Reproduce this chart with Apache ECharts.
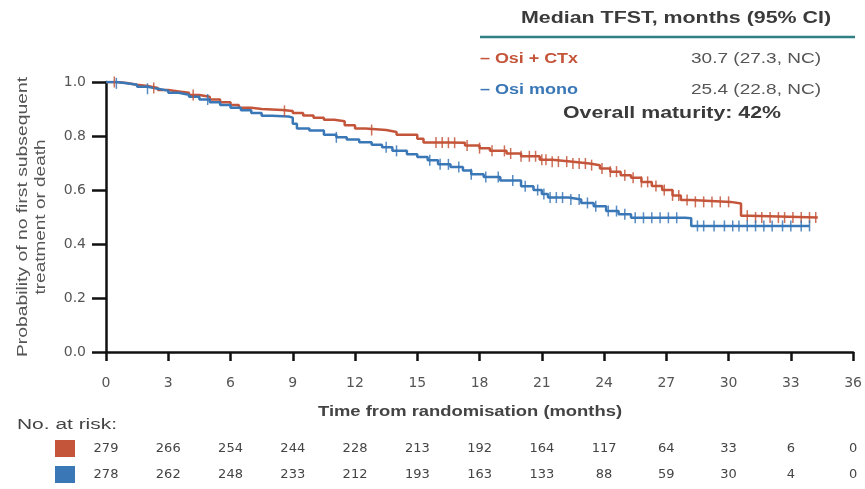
<!DOCTYPE html>
<html>
<head>
<meta charset="utf-8">
<script src="https://cdn.jsdelivr.net/npm/echarts@6/dist/echarts.min.js"></script>
<style>
  html, body { margin: 0; padding: 0; background: #fff; }
  #chart { width: 865px; height: 489px; }
</style>
</head>
<body>
<div id="chart"></div>
<script>
// Kaplan–Meier step points [months, probability]
const osiCtxCurve = [
  [0, 1.0], [0.5, 0.996], [1.0, 0.99], [1.5, 0.985], [2.0, 0.978], [2.5, 0.97],
  [3.0, 0.965], [3.5, 0.96], [4.0, 0.952], [4.5, 0.945], [5.0, 0.935], [5.5, 0.925],
  [6.0, 0.915], [6.4, 0.905], [7.0, 0.9], [7.5, 0.896], [8.5, 0.893], [9.0, 0.885],
  [9.5, 0.876], [10.0, 0.868], [10.5, 0.86], [11.0, 0.855], [11.5, 0.84], [12.0, 0.828],
  [12.5, 0.822], [13.5, 0.815], [14.0, 0.805], [15.0, 0.79], [15.3, 0.776], [16.5, 0.775],
  [17.3, 0.765], [18.0, 0.755], [18.5, 0.745], [19.3, 0.735], [20.0, 0.725], [20.9, 0.712],
  [21.5, 0.705], [22.5, 0.698], [23.3, 0.692], [23.8, 0.68], [24.3, 0.668], [24.8, 0.655],
  [25.3, 0.645], [25.8, 0.63], [26.3, 0.615], [26.8, 0.6], [27.3, 0.58], [27.7, 0.563],
  [28.2, 0.556], [30.1, 0.55], [30.6, 0.505], [31.0, 0.498], [34.3, 0.498]
];
const osiMonoCurve = [
  [0, 1.0], [0.5, 0.995], [1.0, 0.99], [1.5, 0.982], [2.0, 0.975], [2.5, 0.968],
  [3.0, 0.96], [3.5, 0.953], [4.0, 0.945], [4.5, 0.935], [5.0, 0.925], [5.5, 0.915],
  [6.0, 0.905], [6.5, 0.895], [7.0, 0.885], [7.5, 0.875], [8.0, 0.872], [8.8, 0.868],
  [9.0, 0.845], [9.2, 0.828], [9.8, 0.82], [10.5, 0.805], [11.1, 0.795], [11.6, 0.787],
  [12.2, 0.777], [12.8, 0.768], [13.3, 0.758], [13.8, 0.745], [14.5, 0.732], [15.0, 0.722],
  [15.5, 0.71], [16.0, 0.695], [16.6, 0.685], [17.2, 0.672], [17.6, 0.658], [18.2, 0.648],
  [19.0, 0.635], [20.0, 0.614], [20.6, 0.6], [21.0, 0.585], [21.3, 0.572], [22.3, 0.565],
  [22.9, 0.552], [23.5, 0.54], [24.1, 0.522], [24.7, 0.51], [25.3, 0.497], [27.9, 0.495],
  [28.2, 0.467], [33.9, 0.467]
];

// Censoring times (months)
const osiCtxCensored = [0.4, 2.3, 4.2, 8.6, 12.8, 15.9, 16.2, 16.5, 16.8, 17.4, 18.0, 18.6,
  19.2, 19.5, 20.0, 20.4, 20.7, 21.0, 21.2, 21.5, 21.8, 22.2, 22.5, 22.8, 23.1, 23.4, 23.9,
  24.3, 24.6, 25.0, 25.4, 25.8, 26.1, 26.5, 26.9, 27.3, 27.6, 28.0, 28.4, 28.8, 29.2, 29.6,
  30.0, 30.9, 31.3, 31.6, 32.0, 32.4, 32.7, 33.1, 33.5, 33.9, 34.2];
const osiMonoCensored = [0.5, 2.0, 4.9, 11.1, 13.5, 14.0, 15.6, 16.1, 16.5, 17.0, 17.6, 18.3,
  18.9, 19.6, 20.2, 20.8, 21.1, 21.4, 21.7, 22.0, 22.4, 22.8, 23.2, 23.6, 24.2, 24.6, 25.0,
  25.5, 25.9, 26.3, 26.7, 27.1, 27.5, 28.5, 28.8, 29.3, 29.8, 30.2, 30.5, 30.9, 31.3, 31.7,
  32.1, 32.6, 33.0, 33.5, 33.9];

// Axis ticks and numbers at risk
const monthTicks = [0, 3, 6, 9, 12, 15, 18, 21, 24, 27, 30, 33, 36];
const atRiskOsiCtx = [279, 266, 254, 244, 228, 213, 192, 164, 117, 64, 33, 6, 0];
const atRiskOsiMono = [278, 262, 248, 233, 212, 193, 163, 133, 88, 59, 30, 4, 0];

// Median table
const armNames = ['Osi + CTx', 'Osi mono'];
const medianText = ['30.7 (27.3, NC)', '25.4 (22.8, NC)'];
const maturityText = 'Overall maturity: 42%';

const RED = '#c4553a';
const BLUE = '#3a77b6';
const FONT = '"Liberation Sans", Arial, sans-serif';
const WIDE = '"DejaVu Sans", "Liberation Sans", sans-serif';

// value of a step curve at time t
function stepValue(curve, t) {
  let v = curve[0][1];
  for (const p of curve) { if (p[0] <= t) v = p[1]; else break; }
  return v;
}
const censorPoints = (curve, times) => times.map(t => [t, stepValue(curve, t)]);

// text measured on a scratch canvas so it can be widened to a given length
const measureCtx = document.createElement('canvas').getContext('2d');
function fittedText(text, font, fill, x, y, width, align, rotate) {
  measureCtx.font = font;
  const natural = measureCtx.measureText(text).width;
  return {
    type: 'text', x: x, y: y, rotation: rotate || 0, scaleX: width / natural,
    style: { text: text, font: font, fill: fill, align: align || 'left', verticalAlign: 'middle' },
    z: 10
  };
}

function riskAxis(values, offset) {
  return {
    type: 'value', min: 0, max: 36, interval: 3, position: 'bottom', offset: offset,
    axisLine: { show: false }, axisTick: { show: false }, splitLine: { show: false },
    axisLabel: {
      margin: 0, color: '#444', fontFamily: WIDE, fontSize: 13, verticalAlign: 'middle',
      formatter: v => { const i = monthTicks.indexOf(v); return i >= 0 ? String(values[i]) : ''; }
    }
  };
}

const chart = echarts.init(document.getElementById('chart'), null, { renderer: 'canvas' });
chart.setOption({
  animation: false,
  backgroundColor: '#ffffff',
  grid: { left: 106, right: 10, top: 82, bottom: 137 },
  xAxis: [
    {
      type: 'value', min: 0, max: 36, interval: 3,
      axisLine: { lineStyle: { color: '#111', width: 2.5 } },
      axisTick: { length: 9, lineStyle: { color: '#111', width: 2.5 } },
      axisLabel: { margin: 31, color: '#555', fontFamily: WIDE, fontSize: 14, verticalAlign: 'middle' },
      splitLine: { show: false }
    },
    riskAxis(atRiskOsiCtx, 97),
    riskAxis(atRiskOsiMono, 123)
  ],
  yAxis: {
    type: 'value', min: 0, max: 1, interval: 0.2,
    axisLine: { lineStyle: { color: '#111', width: 2.5 } },
    axisTick: { length: 14, lineStyle: { color: '#111', width: 2.5 } },
    axisLabel: { margin: 20, color: '#555', fontFamily: WIDE, fontSize: 14, formatter: v => v.toFixed(1) },
    splitLine: { show: false }
  },
  series: [
    {
      name: armNames[0], type: 'line', step: 'end', data: osiCtxCurve, showSymbol: false,
      lineStyle: { color: RED, width: 2.5 }, z: 3
    },
    {
      name: armNames[1], type: 'line', step: 'end', data: osiMonoCurve, showSymbol: false,
      lineStyle: { color: BLUE, width: 2.5 }, z: 3
    },
    {
      name: armNames[0] + ' censored', type: 'scatter', data: censorPoints(osiCtxCurve, osiCtxCensored),
      symbol: 'rect', symbolSize: [1.5, 11], itemStyle: { color: RED, opacity: 0.85 }, z: 4
    },
    {
      name: armNames[1] + ' censored', type: 'scatter', data: censorPoints(osiMonoCurve, osiMonoCensored),
      symbol: 'rect', symbolSize: [1.5, 11], itemStyle: { color: BLUE, opacity: 0.85 }, z: 4
    }
  ],
  graphic: [
    fittedText('Median TFST, months (95% CI)', 'bold 16px ' + FONT, '#3a3a3a', 676, 19, 310, 'center'),
    { type: 'line', shape: { x1: 480, y1: 37, x2: 855, y2: 37 }, style: { stroke: '#2f7f85', lineWidth: 2.5 } },
    fittedText('– ' + armNames[0], 'bold 14px ' + FONT, RED, 480, 59, 98),
    fittedText(medianText[0], '14px ' + FONT, '#555', 821, 59, 130, 'right'),
    fittedText('– ' + armNames[1], 'bold 14px ' + FONT, BLUE, 480, 90, 98),
    fittedText(medianText[1], '14px ' + FONT, '#555', 821, 90, 130, 'right'),
    fittedText(maturityText, 'bold 16px ' + FONT, '#3a3a3a', 672, 114, 218, 'center'),
    fittedText('Probability of no first subsequent', '15px ' + FONT, '#555', 23, 217, 280, 'center', Math.PI / 2),
    fittedText('treatment or death', '15px ' + FONT, '#555', 41, 217, 155, 'center', Math.PI / 2),
    fittedText('Time from randomisation (months)', 'bold 15px ' + FONT, '#444', 470, 412, 304, 'center'),
    fittedText('No. at risk:', '14px ' + FONT, '#444', 17, 425, 100),
    { type: 'rect', shape: { x: 55, y: 440, width: 20, height: 17 }, style: { fill: RED } },
    { type: 'rect', shape: { x: 55, y: 466, width: 20, height: 17 }, style: { fill: BLUE } }
  ]
});
</script>
</body>
</html>
